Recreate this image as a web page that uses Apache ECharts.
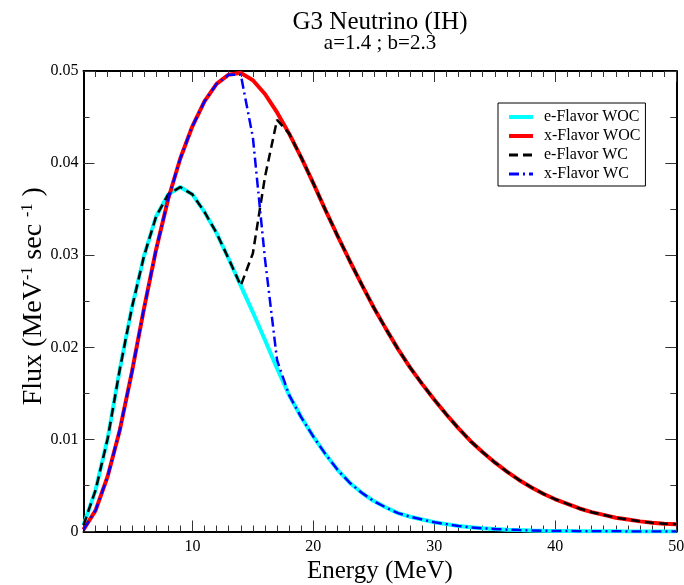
<!DOCTYPE html>
<html>
<head>
<meta charset="utf-8">
<script src="https://cdn.jsdelivr.net/npm/echarts@6/dist/echarts.min.js"></script>
<style>html,body{margin:0;padding:0;background:#fff}#c{width:684px;height:585px}</style>
</head>
<body>
<div id="c"></div>
<script>
// ---- data ----
const energy = [1,2,3,4,5,6,7,8,9,10,11,12,13,14,15,16,17,18,19,20,21,22,23,24,25,26,27,28,29,30,31,32,33,34,35,36,37,38,39,40,41,42,43,44,45,46,47,48,49,50];

const eFlavorWOC = [0.0007,0.0045,0.0101,0.0176,0.0243,0.0299,0.0342,0.0366,0.0374,0.0366,0.0347,0.0324,0.0296,0.0267,0.0238,0.0208,0.0177,0.0148,0.0124,0.0103,0.0084,0.0067,0.0053,0.0042,0.0033,0.0026,0.0020,0.0016,0.0013,0.0010,0.0008,0.0006,0.00045,0.00035,0.00027,0.0002,0.00015,0.00011,0.00008,0.00006,0.00005,0.00004,0.00003,0.00002,0.00002,0.00001,0.00001,0.00001,0.00001,0.00000];

const xFlavorWOC = [0.0002,0.0023,0.0060,0.0110,0.0173,0.0242,0.0306,0.0361,0.0405,0.0440,0.0467,0.0486,0.0496,0.0498,0.0490,0.0475,0.0455,0.0432,0.0406,0.0378,0.0349,0.0321,0.0294,0.0268,0.0243,0.0220,0.0198,0.0178,0.0160,0.0143,0.0127,0.0112,0.0098,0.0086,0.0075,0.0065,0.0056,0.0048,0.0041,0.0035,0.0030,0.0025,0.0021,0.0018,0.0015,0.0013,0.0011,0.00095,0.00085,0.0008];

const eFlavorWC = [0.0007,0.0045,0.0101,0.0176,0.0243,0.0299,0.0342,0.0366,0.0374,0.0366,0.0347,0.0324,0.0296,0.0267,0.0302,0.0385,0.0447,0.0432,0.0406,0.0378,0.0349,0.0321,0.0294,0.0268,0.0243,0.0220,0.0198,0.0178,0.0160,0.0143,0.0127,0.0112,0.0098,0.0086,0.0075,0.0065,0.0056,0.0048,0.0041,0.0035,0.0030,0.0025,0.0021,0.0018,0.0015,0.0013,0.0011,0.00095,0.00085,0.0008];

const xFlavorWC = [0.0002,0.0023,0.0060,0.0110,0.0173,0.0242,0.0306,0.0361,0.0405,0.0440,0.0467,0.0486,0.0496,0.0496,0.0428,0.0296,0.0186,0.0148,0.0124,0.0103,0.0084,0.0067,0.0053,0.0042,0.0033,0.0026,0.0020,0.0016,0.0013,0.0010,0.0008,0.0006,0.00045,0.00035,0.00027,0.0002,0.00015,0.00011,0.00008,0.00006,0.00005,0.00004,0.00003,0.00002,0.00002,0.00001,0.00001,0.00001,0.00001,0.00000];

const xMajorTicks = [10,20,30,40,50];
const xMinorTicks = [2,3,4,5,6,7,8,9,11,12,13,14,15,16,17,18,19,21,22,23,24,25,26,27,28,29,31,32,33,34,35,36,37,38,39,41,42,43,44,45,46,47,48,49];
const seriesNames = ['e-Flavor WOC','x-Flavor WOC','e-Flavor WC','x-Flavor WC'];
const titleText = 'G3 Neutrino (IH)';
const subtitleText = 'a=1.4 ; b=2.3';

// ---- chart ----
const FONT = 'Liberation Serif, Times New Roman, serif';
const pairs = arr => energy.map((e, i) => [e, arr[i]]);
const chart = echarts.init(document.getElementById('c'), null, {renderer: 'canvas'});

const xBase = (pos, major, labels) => ({
  type: 'value', min: 1, max: 50, position: pos,
  axisLine: {show: major, onZero: false, lineStyle: {color: '#000', width: 2}},
  axisTick: {show: true, inside: true, length: major ? 11 : 6, customValues: major ? xMajorTicks : xMinorTicks,
             lineStyle: {color: '#333', width: 1}},
  axisLabel: labels ? {show: true, customValues: xMajorTicks, color: '#000', fontFamily: FONT, fontSize: 16, margin: 7} : {show: false},
  splitLine: {show: false},
  name: labels ? 'Energy (MeV)' : '',
  nameLocation: 'middle', nameGap: 17,
  nameTextStyle: {color: '#000', fontFamily: FONT, fontSize: 25, verticalAlign: 'top'}
});

const yBase = (pos, labels) => ({
  type: 'value', min: 0, max: 0.05, interval: 0.01, position: pos,
  axisLine: {show: true, onZero: false, lineStyle: {color: '#000', width: 2}},
  axisTick: {show: true, inside: true, length: 11, lineStyle: {color: '#333', width: 1}},
  minorTick: {show: true, splitNumber: 2, length: 6, lineStyle: {color: '#333', width: 1}},
  axisLabel: labels ? {show: true, color: '#000', fontFamily: FONT, fontSize: 16, margin: 5,
                       formatter: v => v === 0 ? '0' : v.toFixed(2)} : {show: false},
  splitLine: {show: false},
  name: labels ? 'Flux (MeV{sup|-1} sec {sup|-1} )' : '',
  nameLocation: 'middle', nameRotate: 90, nameGap: 35, nameMoveOverlap: false,
  nameTextStyle: {color: '#000', fontFamily: FONT, fontSize: 28, padding: [0, 0, 0, 10],
    rich: {sup: {fontFamily: FONT, fontSize: 16, color: '#000', verticalAlign: 'top', padding: [0, 0, 13, 0]}}}
});

const lineSeries = (name, data, color, width, type, z) => ({
  name, type: 'line', data: pairs(data), xAxisIndex: 0, yAxisIndex: 0,
  symbol: 'none', showSymbol: false, smooth: false, clip: true, z,
  lineStyle: {color, width, type, cap: 'butt'}, itemStyle: {color},
  emphasis: {disabled: true}
});

chart.setOption({
  animation: false,
  backgroundColor: '#fff',
  grid: {left: 83.5, right: 7.7, top: 71, bottom: 53.5, containLabel: false, outerBoundsMode: 'none'},
  xAxis: [xBase('bottom', true, true), xBase('bottom', false, false), xBase('top', true, false), xBase('top', false, false)],
  yAxis: [yBase('left', true), yBase('right', false)],
  legend: {
    show: true, orient: 'vertical', left: 498, top: 103,
    padding: [6, 5, 4, 9], itemGap: 3, itemWidth: 24, itemHeight: 14,
    borderColor: '#000', borderWidth: 1, backgroundColor: '#fff',
    data: [
      {name: seriesNames[0], lineStyle: {width: 4}},
      {name: seriesNames[1], lineStyle: {width: 4}},
      {name: seriesNames[2], lineStyle: {width: 3}},
      {name: seriesNames[3], lineStyle: {width: 3}}
    ],
    itemStyle: {opacity: 0},
    textStyle: {color: '#000', fontFamily: FONT, fontSize: 16, padding: [0, 0, 0, 6]}
  },
  graphic: [
    {type: 'text', x: 380, y: 22.6, style: {text: titleText, fill: '#000', font: '25px ' + FONT, textAlign: 'center', textVerticalAlign: 'middle'}},
    {type: 'text', x: 380, y: 43.6, style: {text: subtitleText, fill: '#000', font: '21px ' + FONT, textAlign: 'center', textVerticalAlign: 'middle'}}
  ],
  series: [
    lineSeries(seriesNames[0], eFlavorWOC, '#00ffff', 4, 'solid', 2),
    lineSeries(seriesNames[1], xFlavorWOC, '#ff0000', 4, 'solid', 3),
    lineSeries(seriesNames[2], eFlavorWC, '#000000', 2.5, [9, 5], 4),
    lineSeries(seriesNames[3], xFlavorWC, '#0000ff', 2.5, [10, 4, 2, 4], 5)
  ]
});
</script>
</body>
</html>
